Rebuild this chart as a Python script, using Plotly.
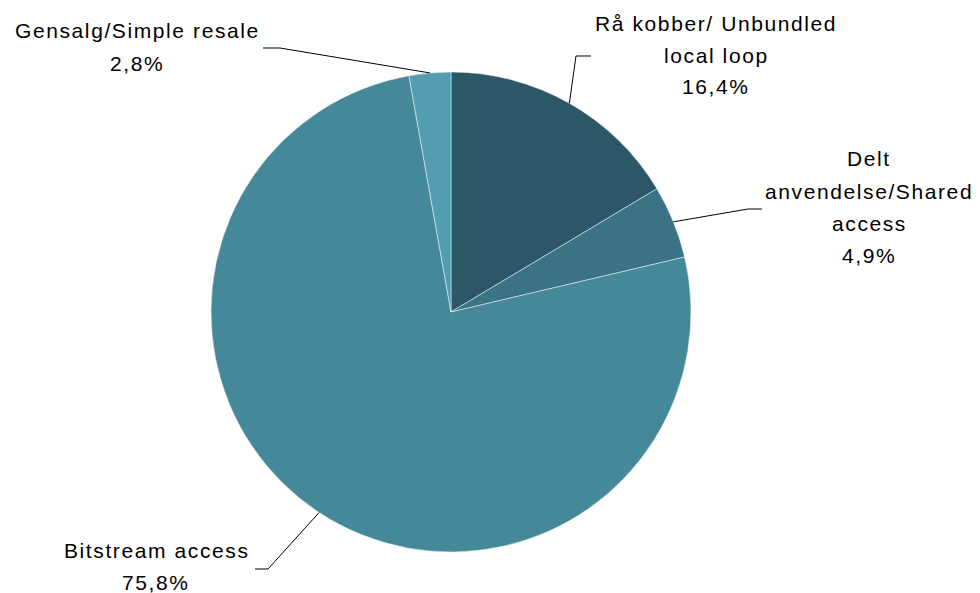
import numpy as np
import plotly.graph_objects as go

# data
labels = ["Rå kobber/ Unbundled local loop", "Delt anvendelse/Shared access",
          "Bitstream access", "Gensalg/Simple resale"]
values = [16.4, 4.9, 75.8, 2.8]
colors = ["#2C5766", "#3A7383", "#45889A", "#539DB1"]
label_lines = [["Rå kobber/ Unbundled", "local loop", "16,4%"],
               ["Delt", "anvendelse/Shared", "access", "4,9%"],
               ["Bitstream access", "75,8%"],
               ["Gensalg/Simple resale", "2,8%"]]

# layout (pixels of the page; the page body has an 8px margin)
OFF = 8
W, H = 980 - OFF, 593 - OFF
cx, cy, R = 451, 312, 240
label_center = [(716, 55), (869, 207), (156, 566), (137, 47)]
bends = [[(576, 56), (591, 56)], [(748, 209), (762, 209)],
         [(268, 569), (255, 569)], [(280, 48), (263, 48)]]
line_gap = 32


def px(x, y):
    return (x - OFF) / W, 1 - (y - OFF) / H


x0d, y1d = px(cx - R, cy - R)
x1d, y0d = px(cx + R, cy + R)
fig = go.Figure(go.Pie(
    labels=labels, values=values, sort=False, direction="clockwise",
    rotation=0, textinfo="none", hoverinfo="label+percent",
    marker=dict(colors=colors, line=dict(color="rgba(255,255,255,0.6)", width=0.8)),
    domain=dict(x=[x0d, x1d], y=[y0d, y1d]),
    showlegend=False,
))

# leader lines from slice mid-angles
total = sum(values)
cum = np.cumsum([0] + values)
annotations = []
shapes = []
for i, v in enumerate(values):
    mid = (cum[i] + v / 2) / total * 2 * np.pi
    ex, ey = cx + R * np.sin(mid), cy - R * np.cos(mid)
    pts = [(ex, ey)] + bends[i]
    path = "M " + " L ".join("%f,%f" % px(x, y) for x, y in pts)
    shapes.append(dict(type="path", path=path, xref="paper", yref="paper",
                       line=dict(color="black", width=1)))
    lx, ly = label_center[i]
    n = len(label_lines[i])
    for j, t in enumerate(label_lines[i]):
        yy = ly + (j - (n - 1) / 2) * line_gap
        ax, ay = px(lx, yy)
        annotations.append(dict(text='<span style="letter-spacing:1.6px">%s</span>' % t,
                                x=ax, y=ay, xref="paper", yref="paper",
                                showarrow=False, xanchor="center", yanchor="middle",
                                font=dict(size=21, color="black",
                                          family="Liberation Sans, Arial")))

fig.update_layout(
    width=W, height=H, margin=dict(l=0, r=0, t=0, b=0),
    paper_bgcolor="white", plot_bgcolor="white",
    annotations=annotations, shapes=shapes,
)
fig.write_html("out.html")
